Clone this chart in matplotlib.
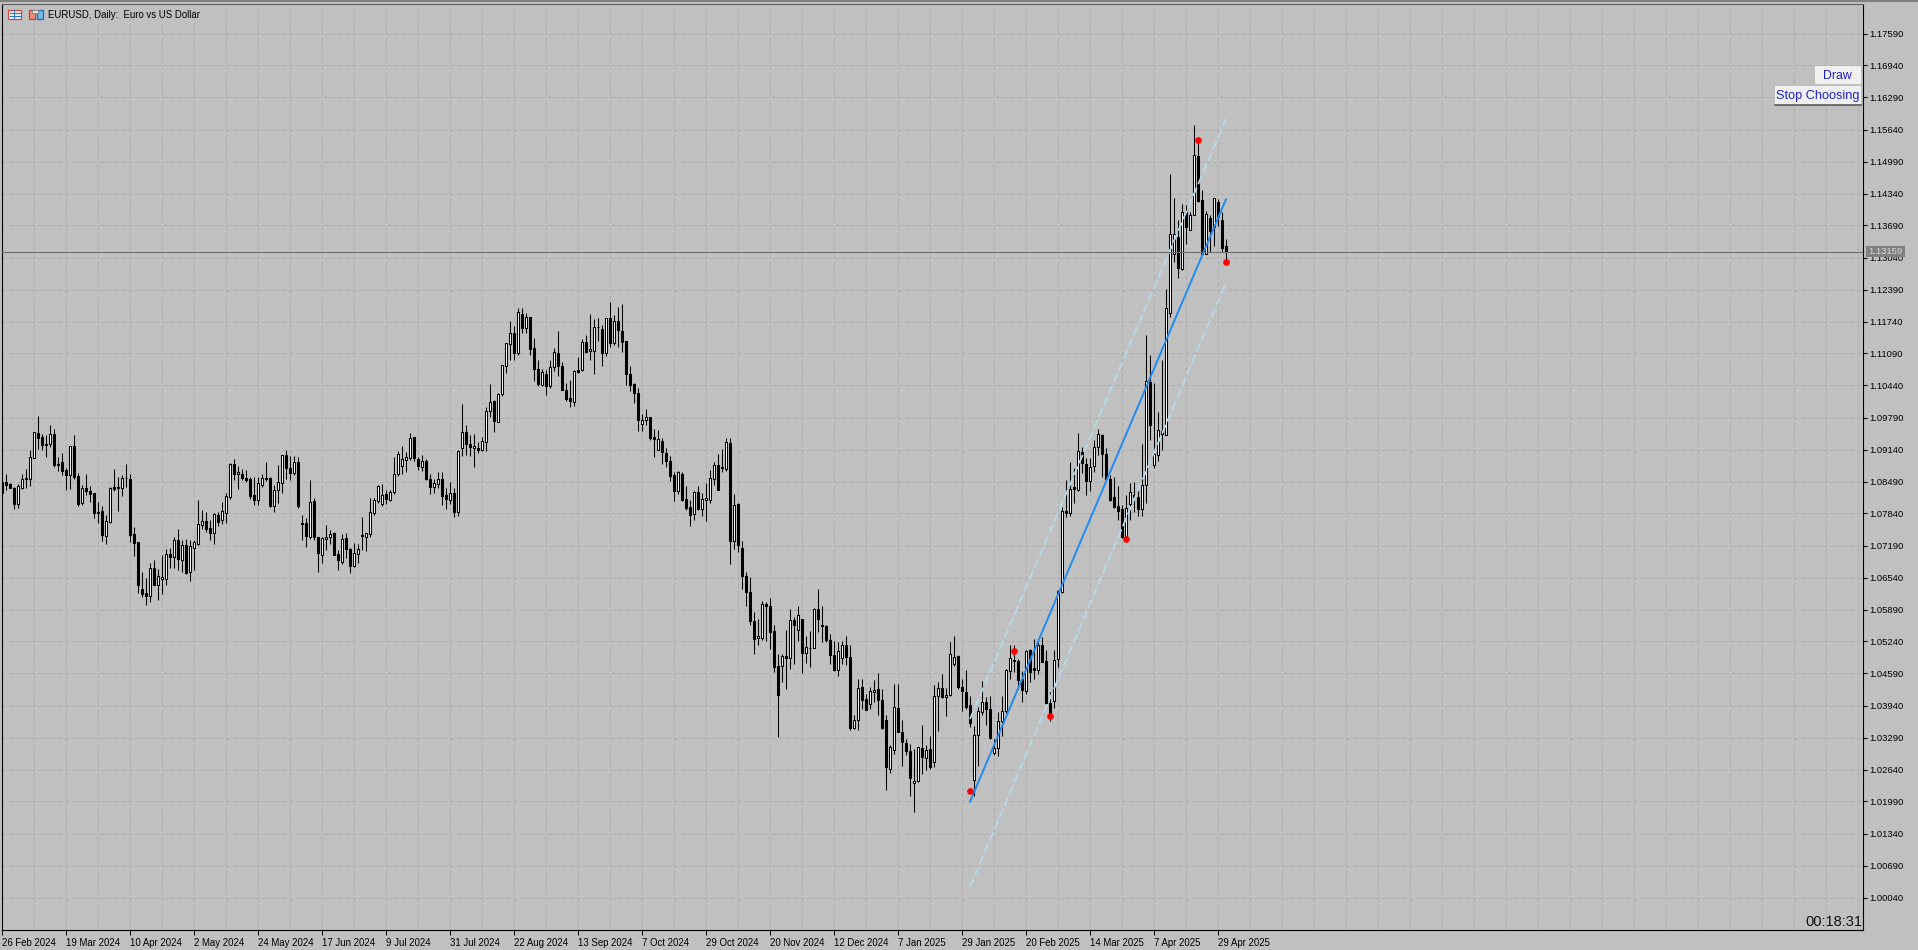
import matplotlib
matplotlib.use('Agg')
import matplotlib.pyplot as plt
from matplotlib.patches import Rectangle
import numpy as np

plt.rcParams['font.family'] = ['Liberation Sans', 'DejaVu Sans']

# daily bars, points above 1.0000
bar_high = [852,865,846,838,844,865,875,914,950,982,
946,943,963,955,898,906,877,922,943,867,
842,864,840,825,808,799,781,837,875,858,
862,884,865,756,726,665,652,684,689,672,
699,711,713,737,752,731,733,730,731,811,
791,787,770,784,787,808,826,886,894,880,
875,873,858,858,858,865,888,858,842,882,
902,914,900,900,899,781,774,852,816,737,
737,760,750,747,710,743,745,713,724,723,
776,745,816,816,842,844,831,831,899,911,
921,909,948,940,899,902,895,865,854,869,
869,835,848,835,913,1007,963,943,946,930,
940,1001,1047,1015,1028,1086,1131,1175,1165,1201,
1201,1191,1184,1140,1096,1077,1076,1096,1120,1155,
1092,1049,1055,1076,1102,1138,1147,1190,1179,1181,
1167,1181,1214,1188,1203,1210,1135,1084,1049,1039,
986,997,981,956,954,937,917,900,869,871,
869,839,812,830,840,825,846,873,888,905,
915,937,937,824,805,729,665,655,584,570,
607,604,612,557,499,499,548,590,573,597,
570,536,545,592,630,596,557,540,526,523,
526,536,516,374,448,448,418,431,446,460,
428,374,313,438,437,364,326,316,306,309,
355,314,332,435,441,458,429,523,535,497,
448,467,414,352,391,443,411,413,326,381,
414,469,516,516,489,465,506,509,529,523,
533,506,421,506,628,798,852,888,876,947,
920,896,896,934,955,946,917,863,859,839,
802,822,846,849,832,926,1147,1106,1050,991,
1096,1241,1473,1425,1380,1412,1410,1397,1573,1548,
1441,1398,1390,1424,1422,1397,1341]

bar_low = [826,831,835,794,796,834,835,840,896,915,
913,899,919,879,871,863,831,833,854,799,
801,821,808,774,765,728,723,764,829,789,
820,837,726,697,622,615,598,605,639,608,
620,638,674,674,669,666,662,647,670,720,
752,747,731,722,758,762,764,814,853,833,
853,848,814,801,802,838,850,798,787,806,
825,855,852,862,796,730,716,733,731,666,
684,710,723,699,669,681,693,664,676,684,
710,707,737,781,806,800,803,810,823,860,
865,869,892,891,872,871,852,823,825,835,
801,794,804,776,779,900,902,900,879,907,
910,911,981,949,969,1023,1070,1096,1096,1105,
1150,1150,1105,1054,1042,1042,1025,1038,1074,1064,
1034,1013,1001,1003,1070,1074,1111,1096,1068,1135,
1083,1103,1122,1127,1123,1113,1044,1032,1008,951,
952,964,934,898,913,885,879,850,810,824,
810,791,759,770,791,779,768,806,842,831,
869,871,682,712,705,630,596,557,498,517,
528,525,508,463,330,441,427,469,479,526,
460,481,473,511,543,523,523,479,464,454,
479,477,345,347,344,387,384,387,401,374,
347,223,257,296,341,272,293,211,177,238,
255,262,265,269,343,409,372,414,475,428,
382,387,350,211,272,374,354,326,293,291,
333,379,448,462,428,402,418,441,448,458,
482,397,362,389,472,623,777,778,805,830,
866,821,829,869,903,859,852,810,795,771,
734,732,771,788,778,779,805,934,876,890,
913,944,1184,1295,1263,1278,1332,1359,1390,1417,
1311,1311,1316,1328,1368,1316,1292]

bar_open = [848,848,843,835,803,836,854,855,896,948,
940,925,926,946,884,888,873,863,921,860,
806,835,830,825,787,789,739,767,837,836,
836,856,855,742,726,630,622,616,673,639,
651,651,701,696,730,689,719,666,714,723,
760,768,754,745,781,770,786,818,884,865,
865,857,854,821,812,842,857,856,800,831,
845,902,877,867,888,764,764,737,809,737,
700,733,737,744,701,686,734,712,678,702,
741,737,743,785,810,803,823,811,828,864,
881,892,896,939,894,878,890,854,838,844,
855,821,812,825,787,917,949,926,917,917,
913,929,992,1013,970,1026,1083,1128,1150,1109,
1190,1160,1183,1120,1077,1045,1067,1042,1081,1110,
1084,1035,1018,1011,1076,1076,1133,1114,1115,1162,
1158,1111,1181,1131,1175,1154,1135,1068,1047,1028,
965,973,979,939,914,932,907,890,863,829,
865,813,797,782,828,793,812,812,855,883,
879,875,927,729,804,714,657,624,565,531,
532,601,596,545,474,475,494,490,567,548,
569,500,511,511,590,557,555,528,497,467,
490,516,492,348,364,431,408,397,421,428,
405,365,265,303,389,341,318,302,236,240,
308,288,305,279,413,430,411,416,478,494,
431,421,395,242,335,381,401,386,297,307,
363,382,465,486,485,447,423,506,470,467,
516,485,400,404,488,624,789,785,838,832,
908,885,851,880,920,944,905,854,817,800,
793,734,803,822,817,793,842,1051,882,903,
946,944,1191,1312,1345,1280,1396,1359,1390,1510,
1420,1312,1384,1366,1417,1381,1327]

bar_close = [826,842,836,803,840,855,856,898,949,938,
923,923,946,882,883,871,862,921,858,803,
835,830,823,785,786,740,768,835,834,837,
857,857,740,724,639,620,616,673,639,657,
654,701,696,730,691,720,664,718,726,762,
768,752,745,783,767,789,819,884,864,869,
857,852,819,812,845,857,854,799,831,848,
902,877,867,888,799,762,738,808,737,704,
734,737,743,700,689,733,712,677,703,712,
739,745,788,811,840,822,814,828,865,904,
894,898,938,896,880,890,854,838,845,855,
820,813,825,787,910,949,925,919,921,913,
931,993,1011,971,1026,1085,1130,1150,1111,1193,
1160,1184,1119,1077,1047,1071,1043,1081,1112,1084,
1034,1017,1013,1074,1072,1133,1112,1118,1162,1163,
1111,1181,1131,1175,1157,1133,1068,1046,1028,974,
973,979,938,936,935,908,891,861,829,868,
812,795,781,828,793,813,815,856,883,831,
876,929,729,801,719,657,624,565,529,535,
600,597,544,472,416,494,490,567,557,577,
500,512,510,590,570,555,528,496,467,504,
516,492,348,364,429,406,385,423,425,406,
349,269,309,391,341,320,301,247,241,309,
290,303,269,414,429,411,416,499,492,431,
423,391,359,335,383,401,386,328,307,362,
382,467,490,484,445,425,504,462,467,516,
483,400,374,486,626,789,785,834,833,910,
886,851,878,920,945,905,854,812,798,790,
736,796,827,817,794,841,1053,963,905,954,
951,1201,1351,1351,1282,1397,1365,1391,1513,1418,
1312,1393,1358,1424,1387,1324,1315]

date_labels = ['26 Feb 2024', '19 Mar 2024', '10 Apr 2024', '2 May 2024', '24 May 2024',
               '17 Jun 2024', '9 Jul 2024', '31 Jul 2024', '22 Aug 2024', '13 Sep 2024',
               '7 Oct 2024', '29 Oct 2024', '20 Nov 2024', '12 Dec 2024', '7 Jan 2025',
               '29 Jan 2025', '20 Feb 2025', '14 Mar 2025', '7 Apr 2025', '29 Apr 2025']

price_ticks = [1.00040 + 0.0065 * k for k in range(28)]
last_price = 1.13159

# swing points and the channel drawn on them
swing_bars = [242, 253, 262, 281, 299, 306]
swing_prices = [1.02197, 1.05041, 1.03720, 1.07316, 1.15421, 1.12942]
channel_bars = [242, 306]
channel_mid = [1.01986, 1.14222]
channel_upper = [1.03666, 1.15853]
channel_lower = [1.00254, 1.12528]

W, H = 1918, 950
L, R, T, B = 2.0, 1863.0, 3.5, 930.0

fig = plt.figure(figsize=(W/100, H/100), dpi=100, facecolor='#C0C0C0')
ax = fig.add_axes([L/W, 1-B/H, (R-L)/W, (B-T)/H], facecolor='#C0C0C0')

o = 1 + np.array(bar_open)/10000.
c = 1 + np.array(bar_close)/10000.
hi = 1 + np.array(bar_high)/10000.
lo = 1 + np.array(bar_low)/10000.
x = np.arange(len(o))

ax.vlines(x, lo, hi, color='k', lw=0.75, zorder=3)
up = c >= o
ax.bar(x[up], (c-o)[up], bottom=o[up], width=0.5, color='white', edgecolor='k', lw=0.75, zorder=4)
ax.bar(x[~up], (o-c)[~up], bottom=c[~up], width=0.5, color='k', edgecolor='k', lw=0.75, zorder=4)

ax.plot(channel_bars, channel_upper, color='#B4DCEC', lw=1.3, ls=(0, (5, 2)), zorder=5)
ax.plot(channel_bars, channel_lower, color='#B4DCEC', lw=1.3, ls=(0, (5, 2)), zorder=5)
ax.plot(channel_bars, channel_mid, color='#1E8CF0', lw=1.4, zorder=6)
ax.plot(swing_bars, swing_prices, ls='none', marker='o', ms=3.8, mfc='#FF0000', mec='#FF0000', zorder=7)
ax.axhline(last_price, color='#6E6E6E', lw=0.8, zorder=6)

ax.set_xlim(0, (R-L)/4.)
ax.set_ylim(1.1759-(B-33.5)*0.0065/32, 1.1759+(33.5-T)*0.0065/32)

ax.set_xticks(np.arange(len(date_labels))*16)
ax.set_xticklabels(date_labels, ha='left')
ax.set_xticks(np.arange(0, 466, 8), minor=True)
ax.set_yticks(price_ticks)
ax.set_yticklabels(['%.5f' % p for p in price_ticks])
ax.yaxis.tick_right()
ax.grid(True, which='both', color='#ADADAD', lw=0.72, ls=(0, (4, 3)), zorder=1)
ax.set_axisbelow(True)
ax.tick_params(axis='x', which='major', length=3.5, width=0.75, pad=2.2, labelsize=6.9)
ax.tick_params(axis='x', which='minor', length=0)
ax.tick_params(axis='y', length=2.6, width=0.75, pad=1.6, labelsize=6.8)
for s in ax.spines.values():
    s.set_linewidth(0.8)
ax.spines['top'].set_color('#606060')

# overlay in pixels for the terminal furniture
ov = fig.add_axes([0, 0, 1, 1], facecolor='none')
ov.set_xlim(0, W)
ov.set_ylim(H, 0)
ov.axis('off')
ov.add_patch(Rectangle((0, 0), W, 1.5, fc='#808080', ec='none'))

# icons
ov.add_patch(Rectangle((8, 10), 13, 9, fc='#F4F4F4', ec='#D04840', lw=0.9))
for yy in (13, 16):
    ov.plot([10, 20], [yy, yy], color='#3070C0', lw=0.8)
ov.plot([14, 14], [10, 19], color='#3070C0', lw=0.7)
ov.add_patch(Rectangle((28.5, 10), 6.5, 9, fc='#E89080', ec='#C04030', lw=0.9))
ov.add_patch(Rectangle((37, 10), 6, 9, fc='#70B8E8', ec='#2070B0', lw=0.9))
ov.add_patch(Rectangle((32, 9.5), 6, 3, fc='#E8E8E8', ec='#808080', lw=0.6))

ov.text(48.5, 14.5, 'EURUSD, Daily:  Euro vs US Dollar', fontsize=6.9, va='center', ha='left', color='k')

# last price tag
ov.add_patch(Rectangle((1866, 246), 39, 10.5, fc='#808080', ec='none'))
ov.text(1885.5, 251.4, '%.5f' % last_price, fontsize=6.8, va='center', ha='center', color='#D8D8D8')

# buttons
ov.add_patch(Rectangle((1815, 65.5), 45.5, 18.5, fc='#F0F0F0', ec='none'))
ov.text(1837.5, 76, 'Draw', fontsize=8.8, va='center', ha='center', color='#2222C0')
ov.add_patch(Rectangle((1775, 86), 85.5, 18.5, fc='#F0F0F0', ec='none'))
ov.plot([1775, 1861], [105, 105], color='#505050', lw=1.1)
ov.text(1817.8, 96.5, 'Stop Choosing', fontsize=9.2, va='center', ha='center', color='#2222C0')

ov.text(1862.5, 922, '00:18:31', fontsize=10.5, va='center', ha='right', color='#101010')

fig.savefig('out.png', dpi=100, facecolor=fig.get_facecolor())
plt.close()
